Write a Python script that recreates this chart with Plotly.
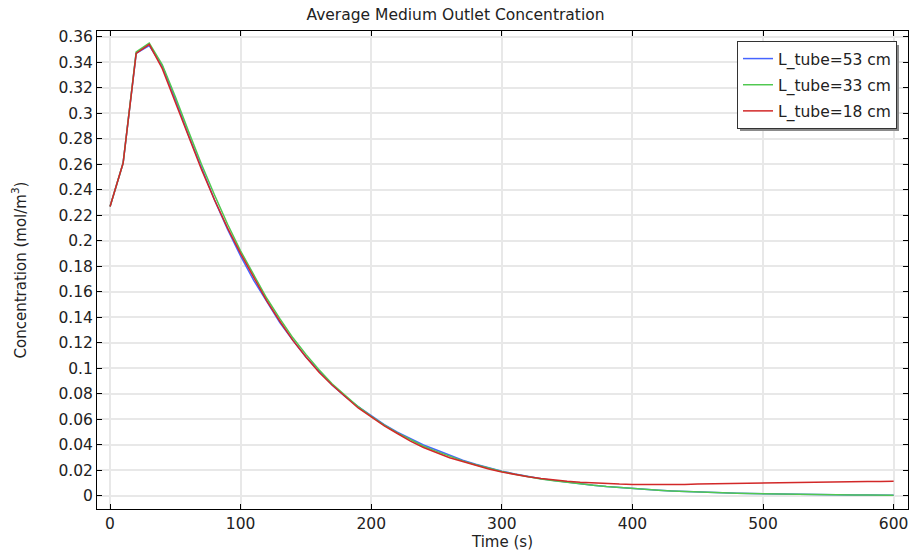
import plotly.graph_objects as go

time_s = [0, 10, 20, 30, 40, 50, 60, 70, 80, 90,
          100, 110, 120, 130, 140, 150, 160, 170, 180, 190,
          200, 210, 220, 230, 240, 250, 260, 270, 280, 290,
          300, 310, 320, 330, 340, 350, 360, 370, 380, 390,
          400, 410, 420, 430, 440, 450, 460, 470, 480, 490,
          500, 510, 520, 530, 540, 550, 560, 570, 580, 590, 600]

conc_53 = [0.227, 0.261, 0.347, 0.353, 0.337, 0.311, 0.283, 0.257, 0.232, 0.209,
           0.188, 0.169, 0.152, 0.136, 0.122, 0.109, 0.098, 0.087, 0.078, 0.070,
           0.063, 0.056, 0.050, 0.045, 0.040, 0.036, 0.032, 0.028, 0.025, 0.022,
           0.0195, 0.0173, 0.0153, 0.0136, 0.0121, 0.0107, 0.0095, 0.0084, 0.0074, 0.0066,
           0.0058, 0.0051, 0.0045, 0.0040, 0.0035, 0.0031, 0.0027, 0.0024, 0.0021, 0.0019,
           0.0017, 0.0015, 0.0013, 0.0012, 0.0011, 0.0010, 0.0009, 0.0008, 0.0007, 0.0007, 0.0006]

conc_33 = [0.227, 0.261, 0.348, 0.355, 0.338, 0.313, 0.286, 0.260, 0.236, 0.213,
           0.192, 0.173, 0.155, 0.139, 0.124, 0.111, 0.099, 0.088, 0.079, 0.070,
           0.0625, 0.0555, 0.0495, 0.044, 0.039, 0.035, 0.031, 0.0275, 0.0245, 0.0217,
           0.0192, 0.0170, 0.0150, 0.0134, 0.0119, 0.0106, 0.0094, 0.0084, 0.0074, 0.0066,
           0.0058, 0.0051, 0.0045, 0.0040, 0.0035, 0.0031, 0.0027, 0.0024, 0.0021, 0.0019,
           0.0017, 0.0015, 0.0013, 0.0012, 0.0011, 0.0010, 0.0009, 0.0008, 0.0007, 0.0007, 0.0006]

conc_18 = [0.227, 0.261, 0.347, 0.354, 0.335, 0.309, 0.282, 0.256, 0.232, 0.210,
           0.190, 0.171, 0.153, 0.137, 0.122, 0.109, 0.097, 0.087, 0.078, 0.069,
           0.062, 0.055, 0.049, 0.043, 0.038, 0.034, 0.030, 0.027, 0.024, 0.0212,
           0.0188, 0.0168, 0.0151, 0.0137, 0.0125, 0.0115, 0.0107, 0.0101, 0.0096, 0.0093,
           0.0091, 0.0090, 0.0090, 0.0090, 0.0091, 0.0093, 0.0095, 0.0097, 0.0099, 0.0101,
           0.0103, 0.0105, 0.0107, 0.0108, 0.0110, 0.0111, 0.0112, 0.0113, 0.0114, 0.0114, 0.0115]

series_names = ["L_tube=53 cm", "L_tube=33 cm", "L_tube=18 cm"]
series_colors = ["rgb(70,100,255)", "rgb(80,200,80)", "rgb(210,40,40)"]

x_ticks = [0, 100, 200, 300, 400, 500, 600]
y_ticks = [round(i * 0.02, 2) for i in range(19)]
y_ticktext = [f"{v:g}" for v in y_ticks]

FONT = "DejaVu Sans"
TXT = "#222"

fig = go.Figure()
for name, vals, col in zip(series_names, [conc_53, conc_33, conc_18], series_colors):
    fig.add_trace(go.Scatter(x=time_s, y=vals, mode="lines", name=name, legendgroup=name,
                             line=dict(color=col, width=1.5)))

axis_common = dict(showline=True, linecolor="black", linewidth=1, mirror="ticks",
                   ticks="inside", ticklen=5, tickcolor="black",
                   showgrid=True, gridcolor="#e8e8e8", gridwidth=2,
                   zeroline=False, tickfont=dict(family=FONT, size=15.5, color=TXT))

fig.update_xaxes(range=[-10, 611], tickvals=x_ticks,
                 title=dict(text="Time (s)", font=dict(family=FONT, size=15, color=TXT), standoff=2),
                 **axis_common)
fig.update_yaxes(range=[-0.0102, 0.3645], tickvals=y_ticks, ticktext=y_ticktext,
                 title=dict(text="Concentration (mol/m<sup>3</sup>)", font=dict(family=FONT, size=15, color=TXT), standoff=28),
                 **axis_common)

# legend shadow
fig.add_shape(type="rect", xref="paper", yref="paper",
              x0=(740 - 97) / 811, x1=(899 - 97) / 811,
              y0=(509 - 131) / 478, y1=(509 - 45) / 478,
              fillcolor="#8a8a8a", line=dict(width=0), layer="above")

fig.update_layout(
    width=911, height=551,
    margin=dict(l=97, r=3, t=31, b=42),
    paper_bgcolor="white", plot_bgcolor="white",
    title=dict(text="Average Medium Outlet Concentration", x=0.5, xref="container",
               y=1 - 15 / 551, yanchor="middle",
               font=dict(family=FONT, size=15.5, color=TXT)),
    legend=dict(x=(897 - 97) / 811, y=(509 - 41) / 478, xanchor="right", yanchor="top",
                bgcolor="white", bordercolor="#333", borderwidth=1,
                font=dict(family=FONT, size=15.5, color=TXT),
                tracegroupgap=3, itemwidth=30),
    showlegend=True,
)

fig.write_html("out.html")
